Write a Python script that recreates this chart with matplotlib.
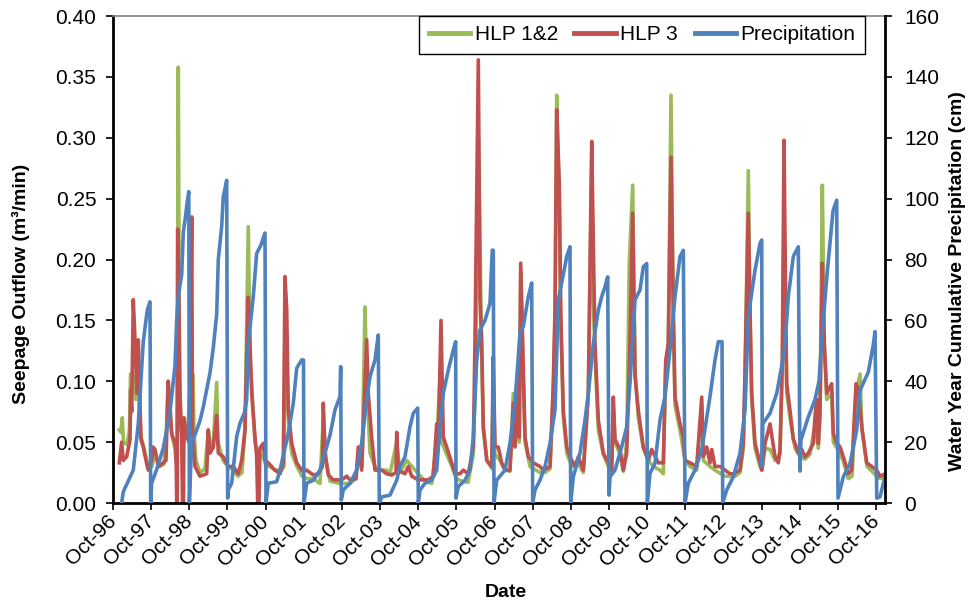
import matplotlib
matplotlib.use('Agg')
import matplotlib.pyplot as plt
from matplotlib.lines import Line2D
import numpy as np

plt.rcParams['font.family'] = ['Liberation Sans', 'DejaVu Sans']

# time in decimal years, Oct 1 = year + 0.75
hlp12_t = [
    1996.915, 1996.960, 1996.994, 1997.025, 1997.117, 1997.182, 1997.209, 1997.274, 1997.300, 1997.353,
    1997.405, 1997.484, 1997.563, 1997.667, 1997.772, 1997.851, 1997.982, 1998.087, 1998.139, 1998.192,
    1998.244, 1998.296, 1998.375, 1998.427, 1998.462, 1998.493, 1998.532, 1998.611, 1998.663, 1998.716,
    1998.781, 1998.847, 1998.873, 1998.925, 1999.030, 1999.161, 1999.248, 1999.292, 1999.371, 1999.468,
    1999.502, 1999.633, 1999.764, 1999.895, 2000.026, 2000.131, 2000.210, 2000.296, 2000.341, 2000.385,
    2000.472, 2000.550, 2000.689, 2000.760, 2000.865, 2000.996, 2001.172, 2001.232, 2001.271, 2001.311,
    2001.363, 2001.442, 2001.573, 2001.704, 2001.835, 2001.992, 2002.175, 2002.262, 2002.333, 2002.438,
    2002.700, 2002.962, 2003.119, 2003.179, 2003.276, 2003.355, 2003.399, 2003.486, 2003.617, 2003.748,
    2003.924, 2004.010, 2004.186, 2004.272, 2004.448, 2004.665, 2004.928, 2005.103, 2005.234, 2005.347,
    2005.365, 2005.496, 2005.635, 2005.740, 2005.897, 2006.055, 2006.194, 2006.264, 2006.325, 2006.369,
    2006.414, 2006.456, 2006.553, 2006.684, 2006.718, 2006.762, 2006.893, 2007.024, 2007.155, 2007.242,
    2007.286, 2007.339, 2007.399, 2007.436, 2007.488, 2007.549, 2007.680, 2007.941, 2008.073, 2008.204,
    2008.290, 2008.335, 2008.379, 2008.448, 2008.484, 2008.552, 2008.649, 2008.780, 2008.938, 2009.077,
    2009.208, 2009.297, 2009.339, 2009.383, 2009.470, 2009.601, 2009.732, 2009.821, 2009.863, 2009.907,
    2010.038, 2010.125, 2010.214, 2010.282, 2010.371, 2010.432, 2010.518, 2010.649, 2010.780, 2010.911,
    2011.087, 2011.173, 2011.236, 2011.304, 2011.375, 2011.435, 2011.480, 2011.611, 2011.742, 2011.873,
    2012.049, 2012.180, 2012.222, 2012.397, 2012.528, 2012.790, 2013.053, 2013.184, 2013.270, 2013.315,
    2013.401, 2013.446, 2013.490, 2013.577, 2013.708, 2013.760, 2013.839, 2013.970, 2014.101, 2014.232,
    2014.292, 2014.337, 2014.381, 2014.408, 2014.494, 2014.625, 2014.756, 2014.887, 2015.018, 2015.149,
    2015.236, 2015.280, 2015.341, 2015.393, 2015.456, 2015.587, 2015.629, 2015.726, 2015.883, 2016.022,
    2016.119, 2016.224, 2016.329, 2016.381, 2016.513, 2016.643, 2016.767, 2016.853, 2016.984]
hlp12_q = [
    0.060, 0.058, 0.070, 0.050, 0.048, 0.060, 0.106, 0.106, 0.095, 0.085,
    0.100, 0.055, 0.045, 0.030, 0.030, 0.040, 0.030, 0.032, 0.050, 0.100,
    0.070, 0.055, 0.045, 0.050, 0.358, 0.100, 0.060, 0.050, 0.060, 0.060,
    0.105, 0.106, 0.060, 0.035, 0.025, 0.028, 0.060, 0.050, 0.045, 0.099,
    0.050, 0.035, 0.030, 0.027, 0.022, 0.025, 0.060, 0.227, 0.120, 0.098,
    0.050, 0.040, 0.038, 0.030, 0.030, 0.027, 0.027, 0.030, 0.160, 0.100,
    0.060, 0.040, 0.030, 0.022, 0.020, 0.020, 0.016, 0.070, 0.035, 0.018,
    0.016, 0.016, 0.020, 0.041, 0.030, 0.161, 0.104, 0.041, 0.030, 0.027,
    0.027, 0.024, 0.050, 0.025, 0.035, 0.027, 0.018, 0.016, 0.050, 0.120,
    0.050, 0.040, 0.030, 0.020, 0.018, 0.017, 0.040, 0.120, 0.300, 0.217,
    0.120, 0.060, 0.035, 0.028, 0.100, 0.040, 0.035, 0.027, 0.026, 0.090,
    0.050, 0.080, 0.050, 0.190, 0.120, 0.050, 0.030, 0.025, 0.025, 0.028,
    0.090, 0.150, 0.335, 0.250, 0.150, 0.070, 0.040, 0.030, 0.033, 0.025,
    0.090, 0.280, 0.167, 0.120, 0.060, 0.040, 0.030, 0.026, 0.080, 0.050,
    0.040, 0.026, 0.050, 0.197, 0.261, 0.110, 0.070, 0.045, 0.035, 0.030,
    0.027, 0.024, 0.110, 0.130, 0.335, 0.150, 0.080, 0.060, 0.035, 0.030,
    0.027, 0.080, 0.035, 0.030, 0.027, 0.022, 0.022, 0.025, 0.045, 0.100,
    0.273, 0.150, 0.085, 0.045, 0.030, 0.027, 0.045, 0.044, 0.035, 0.040,
    0.110, 0.227, 0.140, 0.090, 0.070, 0.045, 0.038, 0.036, 0.040, 0.065,
    0.045, 0.070, 0.261, 0.130, 0.085, 0.090, 0.050, 0.045, 0.035, 0.020,
    0.022, 0.090, 0.106, 0.060, 0.030, 0.026, 0.022, 0.020, 0.022]

hlp3_t = [
    1996.915, 1996.978, 1997.020, 1997.109, 1997.196, 1997.214, 1997.240, 1997.282, 1997.327, 1997.379,
    1997.413, 1997.484, 1997.544, 1997.615, 1997.675, 1997.764, 1997.798, 1997.851, 1997.937, 1998.068,
    1998.139, 1998.199, 1998.244, 1998.289, 1998.375, 1998.409, 1998.420, 1998.435, 1998.446, 1998.480,
    1998.506, 1998.551, 1998.572, 1998.598, 1998.611, 1998.682, 1998.742, 1998.781, 1998.813, 1998.834,
    1998.899, 1999.030, 1999.206, 1999.248, 1999.292, 1999.379, 1999.468, 1999.510, 1999.641, 1999.772,
    1999.903, 2000.034, 2000.123, 2000.210, 2000.254, 2000.296, 2000.341, 2000.385, 2000.472, 2000.516,
    2000.543, 2000.577, 2000.603, 2000.689, 2000.734, 2000.820, 2000.996, 2001.127, 2001.214, 2001.258,
    2001.303, 2001.345, 2001.434, 2001.565, 2001.696, 2001.827, 2002.000, 2002.131, 2002.241, 2002.262,
    2002.307, 2002.393, 2002.524, 2002.744, 2002.875, 2002.962, 2003.119, 2003.179, 2003.268, 2003.355,
    2003.399, 2003.441, 2003.530, 2003.617, 2003.793, 2003.924, 2004.055, 2004.167, 2004.186, 2004.228,
    2004.403, 2004.490, 2004.579, 2004.752, 2004.883, 2005.014, 2005.145, 2005.234, 2005.276, 2005.347,
    2005.407, 2005.496, 2005.627, 2005.714, 2005.845, 2005.931, 2006.062, 2006.194, 2006.238, 2006.325,
    2006.369, 2006.414, 2006.456, 2006.545, 2006.676, 2006.718, 2006.762, 2006.849, 2006.938, 2007.024,
    2007.155, 2007.242, 2007.286, 2007.331, 2007.399, 2007.436, 2007.488, 2007.549, 2007.635, 2007.766,
    2007.941, 2008.028, 2008.204, 2008.290, 2008.335, 2008.379, 2008.448, 2008.484, 2008.552, 2008.642,
    2008.728, 2008.859, 2008.946, 2009.077, 2009.208, 2009.297, 2009.339, 2009.383, 2009.470, 2009.601,
    2009.732, 2009.821, 2009.863, 2009.907, 2010.038, 2010.125, 2010.214, 2010.300, 2010.371, 2010.432,
    2010.518, 2010.649, 2010.780, 2010.869, 2011.042, 2011.173, 2011.236, 2011.304, 2011.375, 2011.435,
    2011.480, 2011.611, 2011.698, 2011.742, 2011.873, 2012.049, 2012.180, 2012.222, 2012.311, 2012.397,
    2012.442, 2012.528, 2012.659, 2012.790, 2012.922, 2013.008, 2013.184, 2013.270, 2013.315, 2013.401,
    2013.446, 2013.490, 2013.577, 2013.708, 2013.753, 2013.839, 2013.970, 2014.101, 2014.188, 2014.232,
    2014.292, 2014.337, 2014.381, 2014.408, 2014.494, 2014.581, 2014.625, 2014.712, 2014.801, 2014.887,
    2014.974, 2015.105, 2015.149, 2015.194, 2015.236, 2015.280, 2015.341, 2015.393, 2015.456, 2015.587,
    2015.629, 2015.718, 2015.805, 2015.891, 2016.022, 2016.111, 2016.224, 2016.285, 2016.373, 2016.504,
    2016.635, 2016.767, 2016.853, 2016.984]
hlp3_q = [
    0.033, 0.050, 0.035, 0.038, 0.052, 0.093, 0.075, 0.167, 0.134, 0.090,
    0.134, 0.052, 0.046, 0.035, 0.027, 0.035, 0.046, 0.044, 0.030, 0.033,
    0.035, 0.100, 0.080, 0.057, 0.049, 0.030, 0.000, 0.000, 0.225, 0.160,
    0.090, 0.052, 0.000, 0.000, 0.070, 0.055, 0.050, 0.120, 0.235, 0.060,
    0.030, 0.022, 0.024, 0.060, 0.041, 0.046, 0.072, 0.041, 0.038, 0.030,
    0.030, 0.024, 0.035, 0.060, 0.120, 0.169, 0.131, 0.090, 0.054, 0.038,
    0.000, 0.000, 0.045, 0.049, 0.035, 0.033, 0.027, 0.024, 0.033, 0.186,
    0.159, 0.076, 0.049, 0.033, 0.027, 0.027, 0.023, 0.024, 0.030, 0.082,
    0.041, 0.023, 0.019, 0.019, 0.022, 0.019, 0.020, 0.046, 0.027, 0.098,
    0.134, 0.090, 0.054, 0.027, 0.027, 0.024, 0.023, 0.025, 0.058, 0.027,
    0.024, 0.030, 0.022, 0.019, 0.019, 0.019, 0.022, 0.065, 0.049, 0.150,
    0.054, 0.046, 0.033, 0.024, 0.024, 0.027, 0.024, 0.046, 0.134, 0.364,
    0.169, 0.131, 0.063, 0.035, 0.030, 0.120, 0.046, 0.046, 0.033, 0.027,
    0.027, 0.082, 0.046, 0.098, 0.054, 0.197, 0.131, 0.054, 0.038, 0.033,
    0.030, 0.027, 0.030, 0.098, 0.159, 0.323, 0.260, 0.159, 0.076, 0.046,
    0.038, 0.030, 0.038, 0.027, 0.090, 0.297, 0.213, 0.131, 0.068, 0.041,
    0.033, 0.027, 0.087, 0.052, 0.044, 0.027, 0.041, 0.131, 0.238, 0.104,
    0.076, 0.046, 0.035, 0.044, 0.033, 0.033, 0.117, 0.131, 0.284, 0.159,
    0.087, 0.065, 0.054, 0.035, 0.033, 0.030, 0.087, 0.038, 0.046, 0.033,
    0.044, 0.030, 0.030, 0.027, 0.024, 0.024, 0.027, 0.049, 0.109, 0.238,
    0.159, 0.090, 0.049, 0.033, 0.027, 0.049, 0.065, 0.038, 0.033, 0.044,
    0.117, 0.298, 0.159, 0.098, 0.076, 0.052, 0.049, 0.041, 0.044, 0.038,
    0.041, 0.049, 0.071, 0.085, 0.049, 0.076, 0.197, 0.131, 0.090, 0.098,
    0.057, 0.049, 0.046, 0.038, 0.024, 0.027, 0.098, 0.093, 0.063, 0.033,
    0.030, 0.027, 0.022, 0.024]

# water year cumulative precipitation, one line per water year
precip_t = [
    1996.978, 1997.020, 1997.282, 1997.413, 1997.544, 1997.649, 1997.720, 1997.738,
    1997.764, 1997.895, 1998.068, 1998.244, 1998.375, 1998.420, 1998.462, 1998.551, 1998.593, 1998.640, 1998.697, 1998.737, 1998.752,
    1998.781, 1998.813, 1998.944, 1999.030, 1999.117, 1999.292, 1999.379, 1999.468, 1999.510, 1999.599, 1999.641, 1999.730, 1999.756,
    1999.772, 1999.861, 1999.992, 2000.079, 2000.191, 2000.254, 2000.296, 2000.427, 2000.516, 2000.629, 2000.734, 2000.760,
    2000.820, 2001.041, 2001.127, 2001.345, 2001.476, 2001.565, 2001.696, 2001.743, 2001.756,
    2001.827, 2002.000, 2002.175, 2002.351, 2002.438, 2002.569, 2002.700, 2002.718, 2002.734,
    2002.786, 2002.962, 2003.137, 2003.268, 2003.399, 2003.486, 2003.617, 2003.703, 2003.730,
    2003.793, 2004.010, 2004.186, 2004.272, 2004.403, 2004.534, 2004.621, 2004.736, 2004.752,
    2004.797, 2004.928, 2005.103, 2005.234, 2005.321, 2005.407, 2005.538, 2005.669, 2005.732, 2005.740,
    2005.800, 2005.976, 2006.107, 2006.194, 2006.283, 2006.369, 2006.500, 2006.631, 2006.691, 2006.718, 2006.736,
    2006.807, 2007.024, 2007.155, 2007.286, 2007.417, 2007.504, 2007.635, 2007.724, 2007.750,
    2007.811, 2007.941, 2008.073, 2008.204, 2008.335, 2008.421, 2008.510, 2008.642, 2008.728, 2008.746,
    2008.815, 2008.990, 2009.121, 2009.208, 2009.339, 2009.470, 2009.559, 2009.645, 2009.716, 2009.750,
    2009.776, 2009.907, 2010.083, 2010.214, 2010.300, 2010.432, 2010.563, 2010.649, 2010.738, 2010.754,
    2010.825, 2010.956, 2011.087, 2011.218, 2011.349, 2011.480, 2011.611, 2011.698, 2011.742,
    2011.829, 2012.004, 2012.180, 2012.397, 2012.528, 2012.615, 2012.712, 2012.730,
    2012.835, 2013.008, 2013.184, 2013.315, 2013.401, 2013.577, 2013.708, 2013.753, 2013.768,
    2013.779, 2013.970, 2014.145, 2014.277, 2014.363, 2014.450, 2014.581, 2014.712, 2014.756,
    2014.782, 2014.966, 2015.149, 2015.254, 2015.333, 2015.464, 2015.621, 2015.718, 2015.752,
    2015.891, 2016.067, 2016.242, 2016.329, 2016.546, 2016.677, 2016.722, 2016.767,
    2016.853, 2016.940, 2016.984]
precip_cm = [
    0, 3.7, 10.8, 26, 53, 63.4, 66.1, 0,
    6.5, 11, 18, 30, 45, 60, 68, 75, 89, 93, 99, 102.3, 0,
    10, 19.7, 24, 27, 31.6, 42.7, 51, 62, 80, 90.8, 100.6, 106, 1.6,
    4.3, 6.5, 21.8, 26.2, 29.5, 33.8, 52.5, 67.8, 82, 84.8, 88.7, 0,
    6.5, 7, 10.8, 23, 32.8, 44.3, 47, 47, 0,
    6.5, 7.5, 10.8, 18.5, 22.3, 30.6, 35, 44.8, 1,
    4.3, 6.5, 10.8, 19.7, 33.8, 41.5, 47, 55.2, 0,
    2, 2.6, 7.5, 12, 15.2, 25, 29.5, 31.2, 0,
    4.3, 6.5, 7.5, 10.8, 25, 36, 43.7, 50.3, 53, 1.6,
    5.4, 7.5, 10.8, 21.8, 47, 56.8, 60, 65.6, 83.1, 83, 0,
    7.5, 10.8, 19.7, 32.8, 56, 58, 67.8, 72.3, 0,
    4.3, 7.5, 12, 19.7, 30.6, 66.7, 72.3, 81, 84.2, 0,
    8.6, 16.4, 27.3, 36, 52.5, 63.4, 67.8, 71, 74.3, 2.6,
    8.6, 10.8, 18.5, 25, 39.4, 66.7, 70, 77.6, 78.7, 0,
    9.8, 13, 27.3, 35, 50.3, 67.8, 81, 83, 0,
    6.5, 10.8, 17.4, 35, 47, 53, 53, 0,
    4.3, 8.6, 16.4, 30.6, 61.2, 76.5, 85.3, 86.4, 12,
    26, 29.5, 36, 45, 52, 68, 81, 84.2, 10.5,
    20.7, 28, 34, 40, 55, 75, 96, 99.5, 1.6,
    8.6, 13, 24, 37, 43, 52, 56.3, 1.6,
    2, 6.5, 8.6]

oct_years = list(range(1996, 2017))
oct_labels = ['Oct-%02d' % (y % 100) for y in oct_years]

green = '#9BBB59'
red = '#C0504D'
blue = '#4F81BD'

fig1 = plt.figure(figsize=(9.79, 6.04), dpi=100)
ax1 = fig1.add_axes([0.1154, 0.1672, 0.7886, 0.8063])
ax1.plot(hlp12_t, hlp12_q, color=green, lw=2.6)
ax1.plot(hlp3_t, hlp3_q, color=red, lw=2.6)
ax1.set_xlim(1996.75, 2016.984)
ax1.set_ylim(0, 0.4)
ax1.set_yticks(np.arange(0, 0.41, 0.05))
ax1.yaxis.set_major_formatter(matplotlib.ticker.FormatStrFormatter('%.2f'))
ax1.set_xticks([y + 0.75 for y in oct_years])
ax1.set_xticklabels(oct_labels, rotation=45, ha='right', va='center', rotation_mode='anchor')
ax1.tick_params(axis='x', direction='out', length=5, width=1.2, labelsize=15, pad=6)
ax1.tick_params(axis='y', direction='out', length=5, width=1.2, labelsize=15, pad=7)
ax1.set_ylabel('Seepage Outflow (m³/min)', fontsize=14, fontweight='bold')
ax1.yaxis.set_label_coords(-0.108, 0.45)
ax1.set_xlabel('Date', fontsize=14, fontweight='bold')
ax1.xaxis.set_label_coords(0.509, -0.167)
for s in ['left', 'bottom']:
    ax1.spines[s].set_linewidth(2)
    ax1.spines[s].set_color('black')
ax1.spines['top'].set_color('#808080')
ax1.spines['top'].set_linewidth(1.2)
ax1.spines['right'].set_visible(False)

ax2 = ax1.twinx()
ax2.plot(precip_t, precip_cm, color=blue, lw=2.6)
ax2.set_ylim(0, 160)
ax2.set_yticks(np.arange(0, 161, 20))
ax2.tick_params(axis='y', direction='out', length=5, width=1.2, labelsize=15, pad=9)
ax2.set_ylabel('Water Year Cumulative Precipitation (cm)', fontsize=14, fontweight='bold')
ax2.yaxis.set_label_coords(1.083, 0.456)
for s in ['left', 'bottom', 'top']:
    ax2.spines[s].set_visible(False)
ax2.spines['right'].set_linewidth(2)
ax2.spines['right'].set_color('black')

handles = [Line2D([], [], color=green, lw=3.5),
           Line2D([], [], color=red, lw=3.5),
           Line2D([], [], color=blue, lw=3.5)]
leg = ax2.legend(handles, ['HLP 1&2', 'HLP 3', 'Precipitation'], loc='upper right',
                 bbox_to_anchor=(0.974, 1.0), ncol=3, fontsize=15, fancybox=False,
                 edgecolor='black', framealpha=1, handlelength=2.0, handletextpad=0.2,
                 columnspacing=0.8, borderaxespad=0, borderpad=0.45)
leg.get_frame().set_linewidth(1)

fig1.savefig('out.png', dpi=100)
